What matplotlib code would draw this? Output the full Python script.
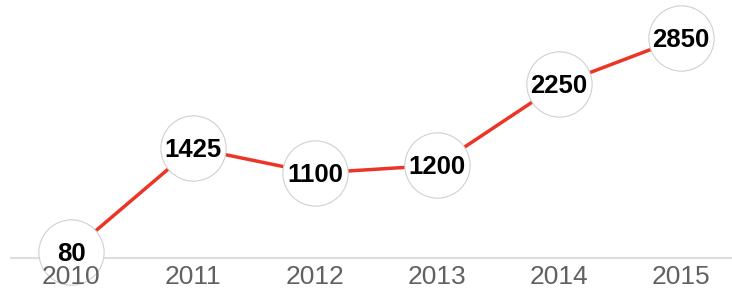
import matplotlib
matplotlib.use("Agg")
import matplotlib.pyplot as plt

years = [2010, 2011, 2012, 2013, 2014, 2015]
values = [80, 1425, 1100, 1200, 2250, 2850]
year_labels = ["2010", "2011", "2012", "2013", "2014", "2015"]

W, H = 732, 293
fig = plt.figure(figsize=(W / 100, H / 100), dpi=100)
ax = fig.add_axes([0, 0, 1, 1])

# pixel mapping: x 2010 -> 71px, 122 px/yr; y 0 -> 258px
px_per_year = 122.0
x0 = 2010 - 71 / px_per_year
ax.set_xlim(x0, x0 + W / px_per_year)
ppu = 220 / 2850
ax.set_ylim((258 - H) / ppu, 258 / ppu)
ax.axis("off")

ax.hlines(0, x0 + 10 / px_per_year, x0 + W / px_per_year, color="#dddddd", lw=1.5, zorder=1)
ax.plot(years, values, color="#ec3526", lw=2.5, zorder=2, solid_capstyle="butt")
ax.scatter(years, values, s=2210, facecolor="white", edgecolor="#d0d0d0", linewidth=0.8, zorder=3)

for x, v in zip(years, values):
    ax.text(x, v - 2 / ppu, f"{v}", ha="center", va="center", fontsize=18.5, fontweight="bold",
            family="Liberation Sans", color="black", zorder=4)

for x, lab in zip(years, year_labels):
    ax.text(x, -19 / ppu, lab, ha="center", va="center", fontsize=19,
            family="Liberation Sans", color="#616161", zorder=5)

fig.savefig("out.png", dpi=100)
